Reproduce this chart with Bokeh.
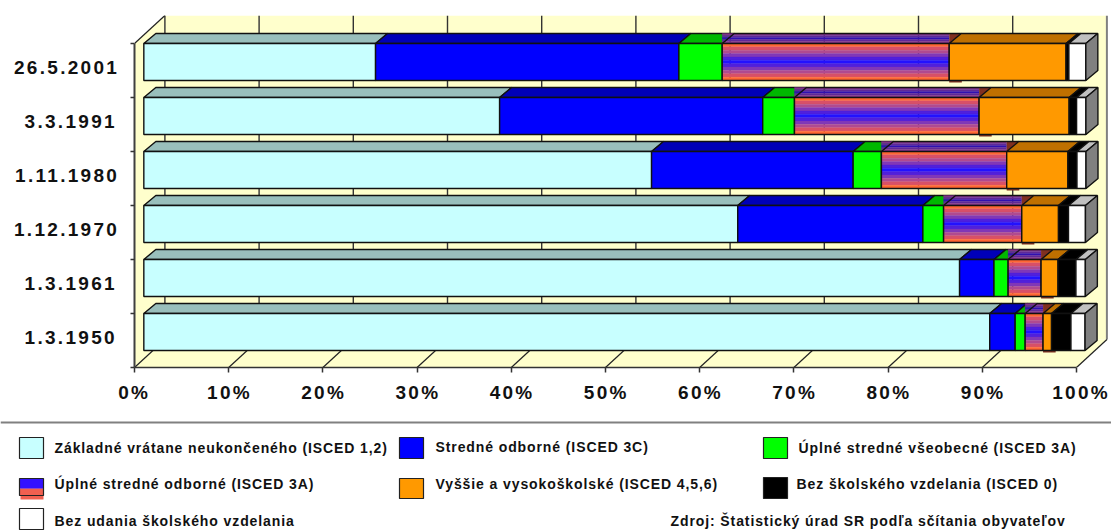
from bokeh.plotting import figure
from bokeh.layouts import column
from bokeh.models import Range1d, FixedTicker
from bokeh.core.properties import value
from bokeh.embed import file_html
from bokeh.resources import INLINE

FONT = "Liberation Sans"
dates = ["1.3.1950", "1.3.1961", "1.12.1970", "1.11.1980", "3.3.1991", "26.5.2001"]
zakladne = [89.8, 86.6, 63.05, 53.9, 37.77, 24.6]
odborne_3c = [2.7, 3.65, 19.65, 21.4, 27.93, 32.2]
vseobecne = [1.06, 1.5, 2.2, 3.0, 3.37, 4.6]
odborne_3a = [1.9, 3.5, 8.3, 13.3, 19.6, 24.1]
vyssie = [0.9, 1.8, 3.9, 6.5, 9.56, 12.4]
bez = [2.06, 1.9, 1.06, 0.96, 0.79, 0.3]
neudane = [1.5, 1.0, 1.8, 0.96, 0.99, 1.8]
x_ticks = [0, 10, 20, 30, 40, 50, 60, 70, 80, 90, 100]
x_labels = ["0%", "10%", "20%", "30%", "40%", "50%", "60%", "70%", "80%", "90%", "100%"]

series = [
    (zakladne, "#C8FFFF", "#99BFBC"),
    (odborne_3c, "#0000FF", "#0000B8"),
    (vseobecne, "#00FF00", "#00B800"),
    (odborne_3a, None, None),
    (vyssie, "#FF9900", "#BF7000"),
    (bez, "#000000", "#000000"),
    (neudane, "#FFFFFF", "#C0C0C0"),
]
front_stripes = ["#FF6633", "#D85068", "#B04A90", "#8038B8", "#5020DC", "#2211FF"]
top_stripes = ["#803088", "#602898", "#3010B0"]

PX = 9.42          # pixels per percent on the x scale
SLOT = 54.0        # pixels per category slot
BAR_X0 = 0.99      # bars stand off the left wall
BAR_H = 0.685
DEPTH_X, DEPTH_Y = 12 / PX, 10 / SLOT
WALL_X, WALL_Y = 30.4 / PX, 28 / SLOT
W = 1111

p = figure(width=W, height=410, output_backend="svg", toolbar_location=None,
           x_range=Range1d(0, 974 / PX), y_range=Range1d(0, 352 / SLOT),
           min_border_left=134, min_border_right=3, min_border_top=15, min_border_bottom=43,
           border_fill_color="#FFFFFF", background_fill_color="#FFFFFF", outline_line_color=None,
           x_axis_location="below", y_axis_location="left")
p.grid.visible = False

n = len(dates)
wall = "#FFFFCC"
p.patches(xs=[[WALL_X, 100 + WALL_X, 100 + WALL_X, WALL_X],
              [0, WALL_X, WALL_X, 0],
              [0, 100, 100 + WALL_X, WALL_X]],
          ys=[[WALL_Y, WALL_Y, n + WALL_Y, n + WALL_Y],
              [0, WALL_Y, n + WALL_Y, n],
              [0, 0, WALL_Y, WALL_Y]],
          fill_color=wall, line_color=None)
p.multi_line(xs=[[t + WALL_X, t + WALL_X] for t in x_ticks[:-1]],
             ys=[[WALL_Y, n + WALL_Y] for _ in x_ticks[:-1]], line_color="#333333", line_width=1.4)
p.line([100 + WALL_X, 100 + WALL_X], [WALL_Y, n + WALL_Y], line_color="#808080", line_width=2)
p.multi_line(xs=[[t, t + WALL_X] for t in x_ticks], ys=[[0, WALL_Y] for _ in x_ticks],
             line_color="#222222", line_width=1.2)
p.line([0, WALL_X], [n, n + WALL_Y], line_color="#222222", line_width=1.2)

edge = dict(line_color="#111111", line_width=1.4)
for k in range(n - 1, -1, -1):
    y0, y1 = k + 1 - BAR_H, k + 1.0
    ytop = y1 + DEPTH_Y
    pos = BAR_X0
    for vals, col, topcol in series:
        a, b = pos, pos + vals[k]
        pos = b
        if col is None:
            seq = top_stripes + top_stripes[-2::-1]
            h = DEPTH_Y / len(seq)
            p.quad(left=a, right=b, top=[ytop - i * h for i in range(len(seq))],
                   bottom=[ytop - (i + 1) * h for i in range(len(seq))],
                   fill_color=seq, line_color=seq, line_width=0.3)
            p.patch([b, b, b + DEPTH_X], [y1, ytop, ytop], fill_color="#803020", line_color=None)
            p.quad(left=b, right=b + DEPTH_X * 1.05, top=y0, bottom=y0 - 2 / SLOT,
                   fill_color="#803020", line_color=None)
            seq = front_stripes + front_stripes[-2::-1]
            h = (y1 - y0) / len(seq)
            p.quad(left=a, right=b, top=[y1 - i * h for i in range(len(seq))],
                   bottom=[y1 - (i + 1) * h for i in range(len(seq))],
                   fill_color=seq, line_color=seq, line_width=0.3)
            p.quad(left=a, right=b, top=y1, bottom=y0, fill_color=None, **edge)
            p.line([a, a + DEPTH_X, b + DEPTH_X], [y1, ytop, ytop], **edge)
        else:
            p.patch([a, a + DEPTH_X, b + DEPTH_X, b], [y1, ytop, ytop, y1], fill_color=topcol, **edge)
            p.quad(left=a, right=b, top=y1, bottom=y0, fill_color=col, **edge)
    p.patch([pos, pos + DEPTH_X, pos + DEPTH_X, pos], [y1, ytop, y0 + DEPTH_Y, y0], fill_color="#808080", **edge)

xa = p.xaxis[0]
xa.ticker = FixedTicker(ticks=x_ticks)
# a trailing no-break space re-centres the labels, whose tracking Bokeh does not measure
xa.major_label_overrides = {t: s + ("" if len(s) == 4 else "\u00a0") for t, s in zip(x_ticks, x_labels)}
xa.bounds = (0, 100)
xa.axis_line_color = "#333333"
xa.axis_line_width = 1.5
xa.major_tick_line_color = "#333333"
xa.major_tick_line_width = 1.5
xa.major_tick_out = 5
xa.major_tick_in = 0
xa.minor_tick_line_color = None
xa.major_label_text_font = FONT
xa.major_label_text_font_style = "bold"
xa.major_label_text_font_size = "19px"
xa.major_label_text_color = "#111111"
xa.major_label_standoff = 9

ya = p.yaxis[0]
centers = [i + 0.56 for i in range(n)]
ya.ticker = FixedTicker(ticks=centers, minor_ticks=list(range(n + 1)))
ya.major_label_overrides = dict(zip(centers, dates))
ya.bounds = (0, n)
ya.axis_line_color = "#404040"
ya.axis_line_width = 2
ya.major_tick_line_color = None
ya.minor_tick_line_color = "#333333"
ya.minor_tick_line_width = 1.5
ya.minor_tick_out = 4
ya.minor_tick_in = 0
ya.major_label_text_font = FONT
ya.major_label_text_font_style = "bold"
ya.major_label_text_font_size = "19px"
ya.major_label_text_color = "#111111"
ya.major_label_standoff = 30
p.styles = {"letter-spacing": "2.3px"}

legend_names = ["Základné vrátane neukončeného (ISCED 1,2)", "Stredné odborné (ISCED 3C)",
                "Úplné stredné všeobecné (ISCED 3A)", "Úplné stredné odborné (ISCED 3A)",
                "Vyššie a vysokoškolské (ISCED 4,5,6)", "Bez školského vzdelania (ISCED 0)",
                "Bez udania školského vzdelania"]
legend_colors = ["#C8FFFF", "#0000FF", "#00FF00", None, "#FF9900", "#000000", "#FFFFFF"]
legend_sw = [(19, 437, 458), (399, 437, 458), (763, 437, 458), (19, 478, 495),
             (399, 478, 498), (763, 477, 498), (19, 508, 529)]
legend_tx = [(54, 447), (435, 446), (798, 447), (54, 483), (435, 483), (796, 483), (54, 520)]
source_text = "Zdroj: Štatistický úrad  SR podľa sčítania obyvateľov"

q = figure(width=W, height=120, output_backend="svg", toolbar_location=None,
           x_range=Range1d(0, W), y_range=Range1d(530, 410),
           min_border=0, outline_line_color=None, border_fill_color="#FFFFFF",
           x_axis_type=None, y_axis_type=None)
q.grid.visible = False
q.line([0, W], [422, 422], line_color="#808080", line_width=2)
for (x, t, b), c in zip(legend_sw, legend_colors):
    if c is None:
        q.quad(left=x + 1, right=x + 24, top=t + 10, bottom=b + 4, fill_color="#F06050", line_color=None)
        q.quad(left=x, right=x + 24, top=t + 10, bottom=b, fill_color="#F06050", line_color=None)
        q.quad(left=x, right=x + 24, top=t, bottom=t + 10, fill_color="#3311FF", line_color=None)
        q.quad(left=x, right=x + 24, top=t, bottom=b, fill_color=None, line_color="#222222", line_width=1.2)
    else:
        q.quad(left=x, right=x + 24, top=t, bottom=b, fill_color=c, line_color="#222222", line_width=1.2)
style = dict(text_font=value(FONT), text_font_style="bold", text_font_size="14px",
             text_color="#111111", text_baseline="middle")
q.text(x=[t[0] for t in legend_tx], y=[t[1] for t in legend_tx], text=legend_names, **style)
q.text(x=[670], y=[520], text=[source_text], **style)
q.styles = {"letter-spacing": "0.9px"}

page = column(column(p), column(q), spacing=0)
open("out.html", "w").write(file_html(page, INLINE))
